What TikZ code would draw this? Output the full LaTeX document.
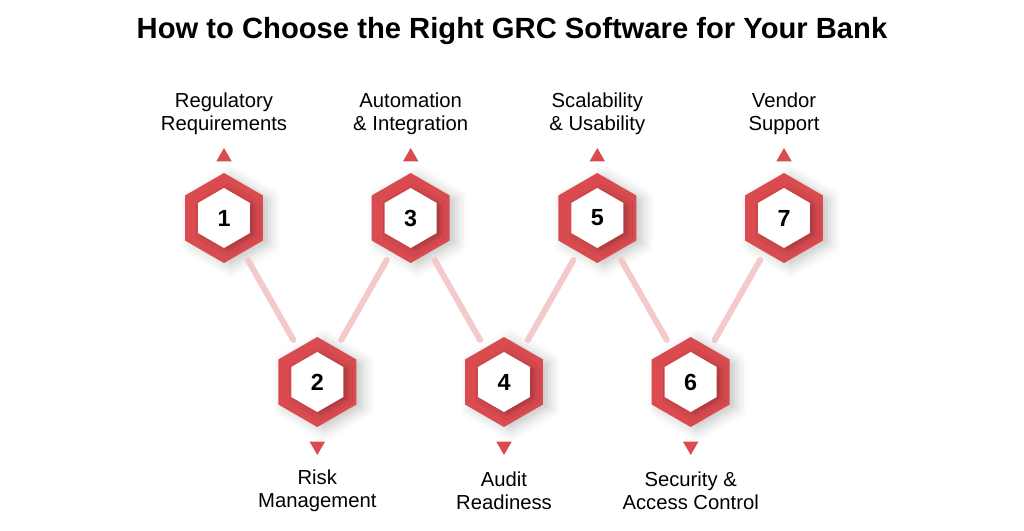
\documentclass[tikz,border=0pt]{standalone}
\usepackage{fontspec}
\setmainfont{Liberation Sans}
\usetikzlibrary{shapes.geometric,shadows.blur}
\definecolor{hexred}{HTML}{DA4B50}
\definecolor{linkpink}{HTML}{F4C9CA}
\tikzset{
  hexout/.style={regular polygon,regular polygon sides=6,shape border rotate=30,minimum size=67.5pt,inner sep=0pt,outer sep=0pt,fill=hexred,
    blur shadow={shadow xshift=5pt,shadow yshift=-2.5pt,shadow blur radius=8pt,shadow opacity=22}},
  hexin/.style={regular polygon,regular polygon sides=6,shape border rotate=30,minimum size=45pt,inner sep=0pt,fill=white,
    blur shadow={shadow xshift=3pt,shadow yshift=-1.5pt,shadow blur radius=4pt,shadow opacity=25},
    font=\bfseries\fontsize{17.5}{20}\selectfont},
  triup/.style={regular polygon,regular polygon sides=3,minimum size=13.5pt,inner sep=0pt,fill=hexred},
  tridown/.style={triup,shape border rotate=180},
  steptext/.style={align=center,font=\fontsize{15.2}{17.2}\selectfont},
  link/.style={draw=linkpink,line width=4.5pt,line cap=round,shorten <=7pt,shorten >=7pt}
}
\begin{document}
\begin{tikzpicture}[x=0.75pt,y=-0.75pt]
\useasboundingbox (0,0) rectangle (1024,531);
% title
\node[font=\bfseries\fontsize{21.9}{25}\selectfont] (title) at (512,31) {How to Choose the Right GRC Software for Your Bank};
% hexagons
\node[hexout] (h1) at (224,218) {};
\node[hexout] (h2) at (317.3,382) {};
\node[hexout] (h3) at (410.7,218) {};
\node[hexout] (h4) at (504,382) {};
\node[hexout] (h5) at (597.3,218) {};
\node[hexout] (h6) at (690.7,382) {};
\node[hexout] (h7) at (784,218) {};
\node[hexin] (n1) at (h1) {1};
\node[hexin] (n2) at (h2) {2};
\node[hexin] (n3) at (h3) {3};
\node[hexin] (n4) at (h4) {4};
\node[hexin] (n5) at (h5) {5};
\node[hexin] (n6) at (h6) {6};
\node[hexin] (n7) at (h7) {7};
% connectors
\draw[link] (h1) -- (h2);
\draw[link] (h2) -- (h3);
\draw[link] (h3) -- (h4);
\draw[link] (h4) -- (h5);
\draw[link] (h5) -- (h6);
\draw[link] (h6) -- (h7);
% pointers
\node[triup] (t1) at (224,157) {};
\node[tridown] (t2) at (317.3,446) {};
\node[triup] (t3) at (410.7,157) {};
\node[tridown] (t4) at (504,446) {};
\node[triup] (t5) at (597.3,157) {};
\node[tridown] (t6) at (690.7,446) {};
\node[triup] (t7) at (784,157) {};
% labels
\node[steptext] (l1) at (224,114) {Regulatory\\Requirements};
\node[steptext] (l2) at (317.3,491) {Risk\\Management};
\node[steptext] (l3) at (410.7,114) {Automation\\\& Integration};
\node[steptext] (l4) at (504,491) {Audit\\Readiness};
\node[steptext] (l5) at (597.3,114) {Scalability\\\& Usability};
\node[steptext] (l6) at (690.7,491) {Security \&\\Access Control};
\node[steptext] (l7) at (784,114) {Vendor\\Support};
\end{tikzpicture}
\end{document}
